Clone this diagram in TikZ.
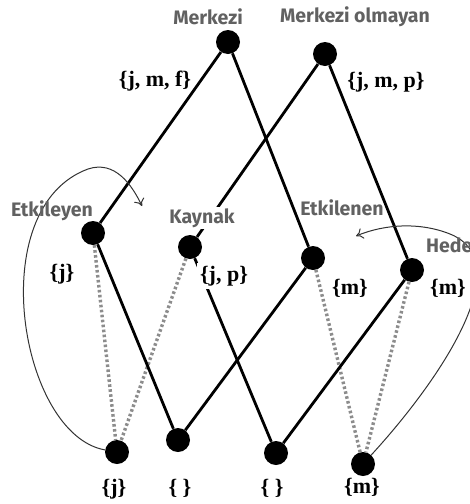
\documentclass[tikz,border=0pt]{standalone}
\usepackage{fontspec}
\setmainfont{Liberation Serif}
\newfontfamily\lblfont{Fira Sans}
\usetikzlibrary{arrows.meta}
\begin{document}
\begin{tikzpicture}[x=1pt,y=-1pt,
  dot/.style={circle,fill=black,inner sep=0pt,minimum size=24pt},
  solid edge/.style={line width=2.8pt,black},
  dot edge/.style={line width=3.4pt,black!45,dash pattern=on 2.6pt off 2.4pt},
  set/.style={font=\bfseries\fontsize{22}{24}\selectfont,inner sep=1pt},
  role/.style={font=\lblfont\bfseries\fontsize{19.5}{22}\selectfont,text=black!62,inner sep=1pt},
  loop/.style={line width=1pt,black!80,-{To[length=7pt,width=11pt]}}]
\useasboundingbox (0,0) rectangle (470,504);
\clip (0,0) rectangle (470,504);
% nodes
\node[dot] (t1) at (228,42) {};
\node[dot] (t2) at (325,54) {};
\node[dot] (a) at (93,233) {};
\node[dot] (b) at (190,247) {};
\node[dot] (c) at (313,258) {};
\node[dot] (d) at (412,270) {};
\node[dot] (b1) at (117,452) {};
\node[dot] (b2) at (178,440) {};
\node[dot] (b3) at (276,453) {};
\node[dot] (b4) at (363,464) {};
% dotted edges
\draw[dot edge] (a) -- (b1);
\draw[dot edge] (b) -- (b1);
\draw[dot edge] (c) -- (b4);
\draw[dot edge] (d) -- (b4);
% solid edges
\draw[solid edge] (t1) -- (a);
\draw[solid edge] (t1) -- (c);
\draw[solid edge] (t2) -- (b);
\draw[solid edge] (t2) -- (d);
\draw[solid edge] (a) -- (b2);
\draw[solid edge] (c) -- (b2);
\draw[solid edge] (b) -- (b3);
\draw[solid edge] (d) -- (b3);
% curved arrows
\coordinate (la) at (142,206);
\coordinate (ra) at (356,236);
\draw[loop] (b1) .. controls (20,435) and (-18,208) .. (88,169) .. controls (115,160) and (132,185) .. (la);
\draw[loop] (b4) .. controls (440,380) and (520,262) .. (450,234) .. controls (420,222) and (385,224) .. (ra);
% labels
\node[role] (l1) at (208,17) {Merkezi};
\node[role] (l2) at (355,17) {Merkezi olmayan};
\node[role] (l3) at (52,211) {Etkileyen};
\node[role,fill=white] (l4) at (202,218) {Kaynak};
\node[role] (l5) at (342,208) {Etkilenen};
\node[role,anchor=west] (l6) at (425,245) {Hedef};
\node[set] (s1) at (155,81) {\{j, m, f\}};
\node[set] (s2) at (386,82) {\{j, m, p\}};
\node[set] (s3) at (62,274) {\{j\}};
\node[set,fill=white,inner sep=3pt] (s4) at (224,276) {\{j, p\}};
\node[set] (s5) at (350,288) {\{m\}};
\node[set] (s6) at (448,288) {\{m\}};
\node[set] (s7) at (114,489) {\{j\}};
\node[set] (s8) at (180,488) {\{ \}};
\node[set] (s9) at (272,488) {\{ \}};
\node[set] (s10) at (362,487) {\{m\}};
\end{tikzpicture}
\end{document}
